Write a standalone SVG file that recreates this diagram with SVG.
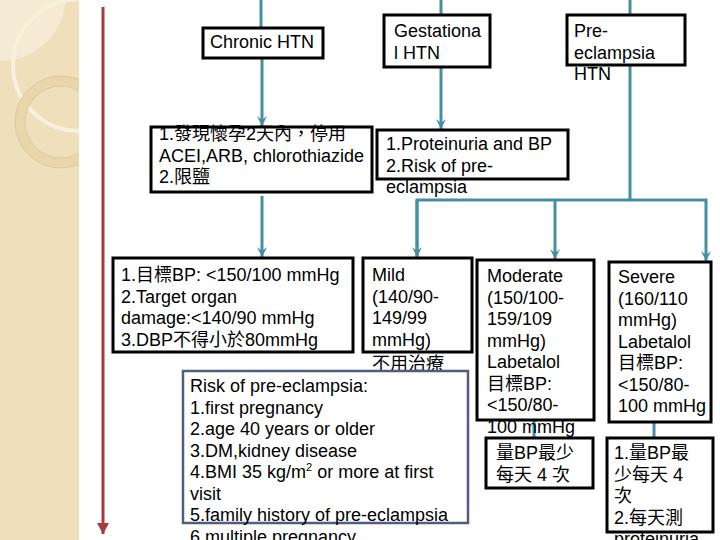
<svg xmlns="http://www.w3.org/2000/svg" width="720" height="540" viewBox="0 0 720 540">
<style>
.t{font-family:"Liberation Sans","Noto Sans CJK TC",sans-serif;font-size:18px;fill:#000}
.box{fill:#fff;stroke:#000;stroke-width:3}
.rbox{fill:#fff;stroke:#4f5e80;stroke-width:2.5}
.c{fill:none;stroke:#468ea2;stroke-width:3}
</style>
<defs>
<marker id="ah" markerUnits="userSpaceOnUse" markerWidth="12" markerHeight="12" refX="10" refY="6" orient="auto">
<path d="M0,1 L4,6 L0,11 L10,6 Z" fill="#468ea2"/>
</marker>
<marker id="rh" markerUnits="userSpaceOnUse" markerWidth="14" markerHeight="14" refX="11" refY="7" orient="auto">
<path d="M0,1 L11,7 L0,13 Z" fill="#a83a3d"/>
</marker>
<clipPath id="strip"><rect x="0" y="0" width="79" height="540"/></clipPath>
</defs>
<rect width="720" height="540" fill="#fff"/>
<g id="decor" clip-path="url(#strip)">
<rect x="0" y="0" width="79" height="540" fill="#efdfbb"/>
<path d="M0,0 H66 A66,66 0 0 1 0,61 Z" fill="#f5ebd3"/>
<circle cx="79" cy="65" r="66" fill="none" stroke="#f8f0de" stroke-width="4"/>
<circle cx="61" cy="122" r="41" fill="none" stroke="#e9d6ad" stroke-width="10"/>
<circle cx="61" cy="122" r="46" fill="none" stroke="#d8c49a" stroke-width="0.8"/>
<circle cx="61" cy="122" r="36" fill="none" stroke="#d8c49a" stroke-width="0.8"/>
</g>
<g id="connectors">
<line class="c" x1="261" y1="0" x2="261" y2="27"/>
<line class="c" x1="262" y1="58" x2="262" y2="126" marker-end="url(#ah)"/>
<line class="c" x1="262" y1="196" x2="262" y2="257" marker-end="url(#ah)"/>
<line class="c" x1="441" y1="0" x2="441" y2="15"/>
<line class="c" x1="441" y1="67" x2="441" y2="129" marker-end="url(#ah)"/>
<line class="c" x1="630" y1="0" x2="630" y2="15"/>
<polyline class="c" points="417,257 417,200 706,200 706,261" marker-end="url(#ah)"/>
<line class="c" x1="417" y1="200" x2="417" y2="257" marker-end="url(#ah)"/>
<line class="c" x1="630" y1="65" x2="630" y2="200"/>
<line class="c" x1="555" y1="200" x2="555" y2="259" marker-end="url(#ah)"/>
<line class="c" x1="534" y1="420" x2="534" y2="438"/>
<line class="c" x1="654" y1="422" x2="654" y2="438"/>
<line x1="103" y1="7" x2="103" y2="534" stroke="#a83a3d" stroke-width="3" marker-end="url(#rh)"/>
</g>
<g id="chronic">
<rect class="box" x="203" y="28" width="120" height="30"/>
<text class="t" x="210" y="48">Chronic HTN</text>
</g>
<g id="gestational">
<rect class="box" x="384" y="15" width="106" height="52"/>
<text class="t" x="394" y="37">Gestationa<tspan x="394" dy="21.5">l HTN</tspan></text>
</g>
<g id="preeclampsia">
<rect class="box" x="567" y="15" width="118" height="50"/>
<text class="t" x="574" y="37">Pre-<tspan x="574" dy="21.5">eclampsia</tspan><tspan x="574" dy="21.5">HTN</tspan></text>
</g>
<g id="chronic-mgmt">
<rect class="box" x="151" y="127" width="221" height="65"/>
<text class="t" x="159" y="140">1.發現懷孕2天內，停用<tspan x="159" dy="21.5">ACEI,ARB, chlorothiazide</tspan><tspan x="159" dy="21.5">2.限鹽</tspan></text>
</g>
<g id="proteinuria">
<rect class="box" x="377" y="130" width="191" height="49"/>
<text class="t" x="386" y="150">1.Proteinuria and BP<tspan x="386" dy="21.5">2.Risk of pre-</tspan><tspan x="386" dy="21.5">eclampsia</tspan></text>
</g>
<g id="target">
<rect class="box" x="113" y="258" width="240" height="94"/>
<text class="t" x="121" y="281">1.目標BP: &lt;150/100 mmHg<tspan x="121" dy="21.5">2.Target organ</tspan><tspan x="121" dy="21.5">damage:&lt;140/90 mmHg</tspan><tspan x="121" dy="21.5">3.DBP不得小於80mmHg</tspan></text>
</g>
<g id="mild">
<rect class="box" x="363" y="258" width="109" height="94"/>
<text class="t" x="372" y="281">Mild<tspan x="372" dy="21.5">(140/90-</tspan><tspan x="372" dy="21.5">149/99</tspan><tspan x="372" dy="21.5">mmHg)</tspan><tspan x="372" dy="24.5">不用治療</tspan></text>
</g>
<g id="moderate">
<rect class="box" x="477" y="260" width="117" height="160"/>
<text class="t" x="487" y="282">Moderate<tspan x="487" dy="21.5">(150/100-</tspan><tspan x="487" dy="21.5">159/109</tspan><tspan x="487" dy="21.5">mmHg)</tspan><tspan x="487" dy="21.5">Labetalol</tspan><tspan x="487" dy="21.5">目標BP:</tspan><tspan x="487" dy="21.5">&lt;150/80-</tspan><tspan x="487" dy="21.5">100 mmHg</tspan></text>
</g>
<g id="severe">
<rect class="box" x="609" y="262" width="102" height="160"/>
<text class="t" x="618" y="283">Severe<tspan x="618" dy="21.5">(160/110</tspan><tspan x="618" dy="21.5">mmHg)</tspan><tspan x="618" dy="21.5">Labetalol</tspan><tspan x="618" dy="21.5">目標BP:</tspan><tspan x="618" dy="21.5">&lt;150/80-</tspan><tspan x="618" dy="21.5">100 mmHg</tspan></text>
</g>
<g id="moderate-monitor">
<rect class="box" x="486" y="438" width="107" height="50"/>
<text class="t" x="496" y="459">量BP最少<tspan x="496" dy="21.5">每天 4 次</tspan></text>
</g>
<g id="severe-monitor">
<rect class="box" x="607" y="438" width="106" height="94"/>
<text class="t" x="614" y="459">1.量BP最<tspan x="614" dy="21.5">少每天 4</tspan><tspan x="614" dy="21.5">次</tspan><tspan x="614" dy="21.5">2.每天測</tspan><tspan x="614" dy="21.5">proteinuria</tspan></text>
</g>
<g id="risk">
<rect class="rbox" x="183" y="371" width="285" height="152"/>
<text class="t" x="190" y="392">Risk of pre-eclampsia:<tspan x="190" dy="21.5">1.first pregnancy</tspan><tspan x="190" dy="21.5">2.age 40 years or older</tspan><tspan x="190" dy="21.5">3.DM,kidney disease</tspan><tspan x="190" dy="21.5">4.BMI 35 kg/m</tspan><tspan font-size="11" dy="-7">2</tspan><tspan dy="7"> or more at first</tspan><tspan x="190" dy="21.5">visit</tspan><tspan x="190" dy="21.5">5.family history of pre-eclampsia</tspan><tspan x="190" dy="21.5">6.multiple pregnancy</tspan></text>
</g>
</svg>
